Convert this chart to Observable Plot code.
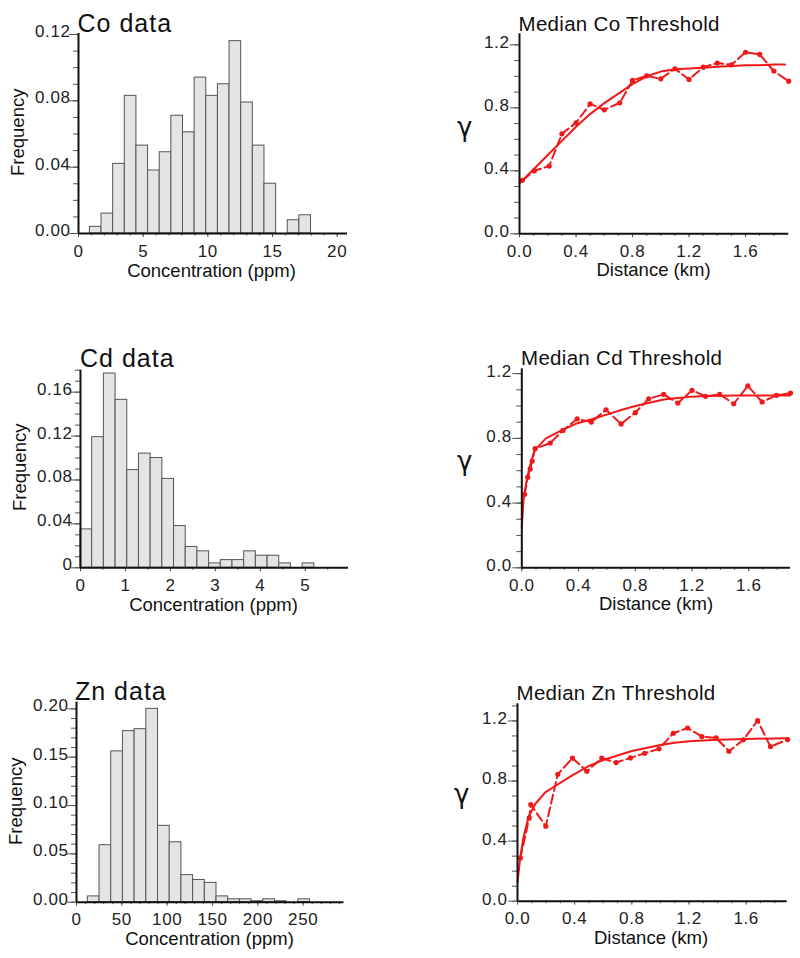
<!DOCTYPE html>
<html><head><meta charset="utf-8">
<script src="https://cdn.jsdelivr.net/npm/d3@7"></script>
<script src="https://cdn.jsdelivr.net/npm/@observablehq/plot@0.6"></script>
<style>
body{margin:0;background:#fff;width:800px;height:958px;position:relative;overflow:hidden;font-family:"Liberation Sans",Arial,Helvetica,sans-serif;color:#111}
.p{position:absolute}
.t{position:absolute;white-space:nowrap;line-height:1;color:#111}
.g{font-family:"DejaVu Sans",sans-serif}
</style></head><body>
<script>
// ---------- Histogram data (bin edges and relative frequencies) ----------
const coEdges = [0.88,1.78,2.68,3.58,4.48,5.38,6.28,7.18,8.08,8.98,9.88,10.78,11.68,12.58,13.48,14.38,15.28,16.18,17.08,17.98];
const coFreq  = [0.004,0.012,0.042,0.083,0.053,0.038,0.049,0.071,0.061,0.094,0.083,0.090,0.116,0.079,0.053,0.030,0,0.008,0.011];

const cdEdges = [0,0.26,0.52,0.78,1.04,1.30,1.56,1.82,2.08,2.34,2.60,2.86,3.12,3.38,3.64,3.90,4.16,4.42,4.68,4.94,5.20];
const cdFreq  = [0.035,0.119,0.177,0.153,0.089,0.104,0.100,0.081,0.038,0.019,0.015,0.004,0.007,0.007,0.015,0.011,0.011,0.004,0,0.004];

const znEdges = [12.5,25.4,38.3,51.2,64.1,77.0,89.9,102.8,115.7,128.6,141.5,154.4,167.3,180.2,193.1,206.0,218.9,231.8,244.7,257.6];
const znFreq  = [0.006,0.059,0.156,0.177,0.179,0.200,0.079,0.062,0.028,0.023,0.020,0.006,0.003,0.003,0.001,0.003,0.001,0,0.003];

// ---------- Variogram data: experimental (dashed + dots) and fitted (solid) ----------
const coLag   = [0.02,0.105,0.21,0.30,0.40,0.50,0.60,0.71,0.80,0.90,1.00,1.10,1.20,1.30,1.40,1.50,1.60,1.70,1.80,1.905];
const coGamma = [0.34,0.40,0.43,0.635,0.705,0.825,0.787,0.832,0.974,1.003,0.984,1.048,0.98,1.058,1.084,1.073,1.153,1.139,1.033,0.969];
const coFitX  = [0,0.1,0.2,0.3,0.4,0.5,0.6,0.7,0.8,0.9,1.0,1.1,1.2,1.3,1.4,1.5,1.6,1.7,1.8,1.88];
const coFitY  = [0.32,0.41,0.50,0.59,0.68,0.76,0.83,0.89,0.95,1.00,1.03,1.045,1.05,1.055,1.06,1.065,1.07,1.07,1.075,1.075];

const cdLag   = [0.02,0.042,0.059,0.073,0.094,0.20,0.29,0.39,0.49,0.594,0.70,0.80,0.895,1.0,1.10,1.20,1.295,1.395,1.494,1.593,1.694,1.795,1.894];
const cdGamma = [0.454,0.56,0.61,0.66,0.736,0.771,0.849,0.92,0.901,0.977,0.889,0.959,1.045,1.072,1.018,1.097,1.06,1.072,1.014,1.124,1.025,1.066,1.08];
const cdFitX  = [0,0.012,0.03,0.054,0.09,0.17,0.29,0.38,0.5,0.62,0.7,0.8,0.9,1.0,1.1,1.2,1.3,1.5,1.7,1.89];
const cdFitY  = [0.25,0.42,0.52,0.62,0.726,0.80,0.854,0.89,0.92,0.953,0.975,1.0,1.02,1.04,1.05,1.058,1.062,1.065,1.065,1.065];

const znLag   = [0.02,0.082,0.093,0.198,0.282,0.385,0.485,0.59,0.69,0.79,0.89,0.99,1.09,1.19,1.29,1.39,1.48,1.58,1.68,1.77,1.89];
const znGamma = [0.288,0.554,0.643,0.499,0.845,0.952,0.865,0.952,0.923,0.954,0.985,1.014,1.118,1.153,1.096,1.087,0.998,1.074,1.202,1.029,1.076];
const znFitX  = [0,0.019,0.042,0.077,0.124,0.194,0.264,0.38,0.5,0.6,0.7,0.8,0.9,1.0,1.1,1.2,1.3,1.4,1.6,1.88];
const znFitY  = [0.126,0.29,0.426,0.56,0.647,0.725,0.767,0.836,0.90,0.94,0.97,1.0,1.02,1.04,1.055,1.065,1.07,1.075,1.08,1.085];

// ---------- Tick labels ----------
const coXTicks = [0,5,10,15,20];
const coYTicks = [0,0.04,0.08,0.12];
const cdXTicks = [0,1,2,3,4,5];
const cdYTicks = [0,0.04,0.08,0.12,0.16];
const znXTicks = [0,50,100,150,200,250];
const znYTicks = [0,0.05,0.10,0.15,0.20];
const vgXTicks = [0,0.4,0.8,1.2,1.6];
const vgYTicks = [0,0.4,0.8,1.2];

const FONT = '"Liberation Sans", Arial, Helvetica, sans-serif';
const RED = "#f01818";
const TICK = "#555";
const TICKFONT = 17;

function mount(svg, left, top, w) {
  const d = document.createElement("div");
  d.className = "p";
  d.style.left = left + "px"; d.style.top = top + "px"; d.style.width = w + "px";
  d.appendChild(svg);
  document.body.appendChild(d);
}
function label(text, x, baseline, size, center, ls, cls) {
  const d = document.createElement("div");
  d.className = "t" + (cls ? " " + cls : "");
  d.textContent = text;
  d.style.fontSize = size + "px";
  d.style.top = (baseline - 0.8465 * size) + "px";
  if (center) { d.style.left = (x - 200) + "px"; d.style.width = "400px"; d.style.textAlign = "center"; }
  else d.style.left = x + "px";
  if (ls) d.style.letterSpacing = ls + "px";
  document.body.appendChild(d);
}
function vlabel(text, cx, cy, size) {
  const d = document.createElement("div");
  d.className = "t";
  d.textContent = text;
  d.style.fontSize = size + "px";
  d.style.width = "200px"; d.style.height = size + "px"; d.style.textAlign = "center";
  d.style.left = (cx - 100) + "px"; d.style.top = (cy - size / 2) + "px";
  d.style.transform = "rotate(-90deg)";
  document.body.appendChild(d);
}

function axesMarks(c) {
  return [
    Plot.axisX({ticks: c.xMinor, tickSize: 2.5, fill: "none", stroke: TICK, label: null}),
    Plot.axisX({ticks: c.xMajor, tickSize: 4, tickPadding: 7, tickFormat: c.xFmt, stroke: TICK, fill: "#222", fontSize: TICKFONT, label: null}),
    Plot.axisY({ticks: c.yMinor, tickSize: 5, fill: "none", stroke: TICK, label: null}),
    Plot.axisY({ticks: c.yMajor, tickSize: 9, fill: "none", stroke: TICK, label: null}),
    Plot.axisY({ticks: c.yMajor, tickSize: 0, tickPadding: c.yPad, dy: c.yDy, tickFormat: c.yFmt, fill: "#222", fontSize: TICKFONT, label: null}),
    Plot.ruleY([0], {stroke: "#111", strokeWidth: 2}),
    Plot.ruleX([0], {stroke: "#111", strokeWidth: 2})
  ];
}

function panel(c, dataMarks) {
  const svg = Plot.plot({
    width: c.w, height: c.h,
    marginLeft: c.ml, marginRight: c.mr, marginTop: c.mt, marginBottom: c.mb,
    x: {domain: c.xDomain, axis: null},
    y: {domain: c.yDomain, axis: null},
    style: {fontFamily: FONT, fontSize: TICKFONT + "px", letterSpacing: "0.6px", background: "transparent", overflow: "visible"},
    marks: [...dataMarks, ...axesMarks(c)]
  });
  mount(svg, c.left, c.top, c.w);
}

function hist(c, edges, freq) {
  const bars = freq.map((f, i) => ({x1: edges[i], x2: edges[i + 1], f}));
  panel(c, [Plot.rectY(bars, {x1: "x1", x2: "x2", y: "f", fill: "#e4e4e4", stroke: "#555", strokeWidth: 1})]);
}
function vario(c, lag, gamma, fx, fy) {
  const emp = lag.map((x, i) => ({x, g: gamma[i]}));
  const fit = fx.map((x, i) => ({x, g: fy[i]}));
  panel(c, [
    Plot.line(fit, {x: "x", y: "g", stroke: RED, strokeWidth: 2}),
    Plot.line(emp, {x: "x", y: "g", stroke: RED, strokeWidth: 2, strokeDasharray: "9,4"}),
    Plot.dot(emp, {x: "x", y: "g", r: 2.6, fill: RED, stroke: "none"})
  ]);
}

const f2 = d => d.toFixed(2);
const f1 = d => d.toFixed(1);
const vgMinorX = d3.range(0, 1.85, 0.1);
const vgMinorY = d3.range(0, 1.25, 0.1);

// ---- Row 1: Co ----
hist({left: 0, top: 0, w: 360, h: 290, ml: 78, mr: 13, mt: 33, mb: 57,
  xDomain: [0, 20.8], yDomain: [0, 0.1206],
  xMajor: coXTicks, xMinor: d3.range(0, 21, 1), xFmt: d => String(d),
  yMajor: coYTicks, yMinor: d3.range(0, 0.121, 0.01), yFmt: f2, yPad: 8, yDy: -3}, coEdges, coFreq);
vario({left: 440, top: 0, w: 360, h: 290, ml: 79, mr: 11.7, mt: 33.3, mb: 56.7,
  xDomain: [0, 1.906], yDomain: [0, 1.27],
  xMajor: vgXTicks, xMinor: vgMinorX, xFmt: f1,
  yMajor: vgYTicks, yMinor: vgMinorY, yFmt: f1, yPad: 10, yDy: -2}, coLag, coGamma, coFitX, coFitY);

// ---- Row 2: Cd ----
hist({left: 0, top: 320, w: 360, h: 300, ml: 80, mr: 12, mt: 49.7, mb: 52.7,
  xDomain: [0, 5.96], yDomain: [0, 0.18],
  xMajor: cdXTicks, xMinor: d3.range(0, 5.9, 0.5), xFmt: d => String(d),
  yMajor: cdYTicks, yMinor: d3.range(0, 0.181, 0.01), yFmt: d => d === 0 ? "0" : f2(d), yPad: 8, yDy: -3}, cdEdges, cdFreq);
vario({left: 440, top: 320, w: 360, h: 300, ml: 81.3, mr: 10, mt: 48.3, mb: 52.7,
  xDomain: [0, 1.894], yDomain: [0, 1.23],
  xMajor: vgXTicks, xMinor: vgMinorX, xFmt: f1,
  yMajor: vgYTicks, yMinor: vgMinorY, yFmt: f1, yPad: 10, yDy: -2}, cdLag, cdGamma, cdFitX, cdFitY);

// ---- Row 3: Zn ----
hist({left: 0, top: 640, w: 360, h: 318, ml: 76, mr: 16.5, mt: 61.6, mb: 56.3,
  xDomain: [0, 295], yDomain: [0, 0.207],
  xMajor: znXTicks, xMinor: d3.range(0, 291, 10), xFmt: d => String(d),
  yMajor: znYTicks, yMinor: d3.range(0, 0.2051, 0.01), yFmt: f2, yPad: 8, yDy: -3}, znEdges, znFreq);
vario({left: 440, top: 640, w: 360, h: 318, ml: 77, mr: 13.3, mt: 63.3, mb: 57.3,
  xDomain: [0, 1.887], yDomain: [0, 1.314],
  xMajor: vgXTicks, xMinor: vgMinorX, xFmt: f1,
  yMajor: vgYTicks, yMinor: d3.range(0, 1.31, 0.1), yFmt: f1, yPad: 10, yDy: -2}, znLag, znGamma, znFitX, znFitY);

// ---- Titles and axis labels ----
label("Co data", 77.5, 32, 25, false, 1);
label("Cd data", 80, 367, 25, false, 1);
label("Zn data", 75, 700, 25, false, 1);
label("Median Co Threshold", 518.5, 31, 20.5, false, 0.3);
label("Median Cd Threshold", 521, 365.7, 20.5, false, 0.3);
label("Median Zn Threshold", 516.5, 700, 20.5, false, 0.3);
label("Concentration (ppm)", 211.5, 278, 18.5, true);
label("Concentration (ppm)", 213.5, 612, 18.5, true);
label("Concentration (ppm)", 209.5, 946, 18.5, true);
label("Distance (km)", 653.5, 277, 18.5, true);
label("Distance (km)", 656, 611, 18.5, true);
label("Distance (km)", 651, 945, 18.5, true);
vlabel("Frequency", 18, 132.5, 18.5);
vlabel("Frequency", 20, 467, 18.5);
vlabel("Frequency", 16, 801, 18.5);
label("γ", 457, 136.5, 26, false, 0, "g");
label("γ", 457, 470.5, 26, false, 0, "g");
label("γ", 454, 803.5, 26, false, 0, "g");
</script>
</body></html>
